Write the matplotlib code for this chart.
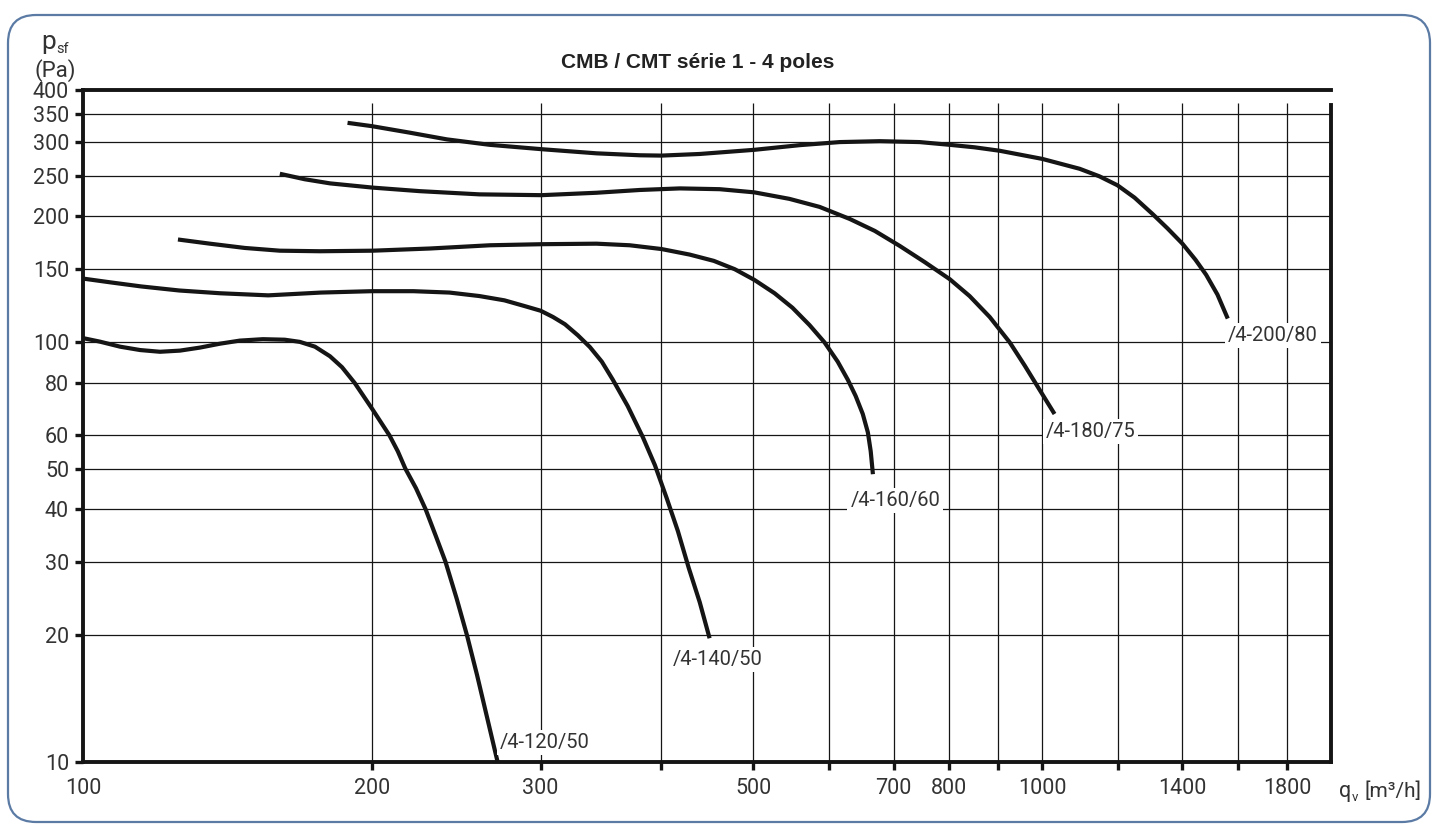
import matplotlib.pyplot as plt
from matplotlib.patches import FancyBboxPatch
from matplotlib.ticker import NullLocator

FONT = ['Roboto', 'DejaVu Sans']
INK = '#151515'
LABEL_INK = '#333333'

# Fan curves: flow q_v [m3/h] and pressure p_sf [Pa]
q_120_50 = [100, 104.2, 109.3, 114.7, 120.3, 126.2, 132.4, 138.9, 145.7, 154, 162.3, 168.3, 174.5,
            180.9, 186.2, 192, 200.3, 208.7, 212.9, 216.8, 222.4, 227.6, 233.4, 238.7, 245.2,
            251.4, 257.5, 263.9, 270.5]
p_120_50 = [102.4, 100.4, 97.7, 95.9, 95, 95.6, 97.2, 99.3, 101, 101.8, 101.5, 100.3, 97.7, 92.7,
            87.3, 80, 69.3, 60, 55, 50, 44.9, 40, 34.4, 30, 24.5, 20, 16.1, 12.7, 10]

q_140_50 = [100, 107, 115, 126, 139, 156, 177, 200, 221, 241, 259, 275, 289, 300, 309, 318, 328,
            337.6, 347.4, 356.7, 369.7, 383.3, 394.6, 406, 417, 428, 439.5, 450]
p_140_50 = [142, 139, 136, 133, 131, 129.5, 131.5, 132.5, 132.5, 131.5, 129, 126, 122, 119, 115,
            110.5, 104, 97.5, 90, 81.5, 70.5, 59.5, 51, 42.5, 35.5, 29, 24, 19.7]

q_160_60 = [125.6, 135.6, 147.5, 160.4, 176.6, 200.5, 230, 265.5, 300.6, 343, 371.5, 401, 429,
            454.6, 478, 501, 526, 549, 572, 593, 612, 627, 639, 650, 658, 662.5, 666]
p_160_60 = [176, 172, 168, 165.5, 165, 165.5, 167.5, 170.5, 171.5, 172, 170.5, 167, 162, 156.5,
            149.5, 141, 131, 121, 110, 100, 90, 81.5, 74.5, 67.5, 61, 55, 48.5]

q_180_75 = [160.4, 170.3, 181, 200.5, 224.5, 259, 300.6, 343, 380.6, 419, 461, 501, 545, 586, 630,
            669, 710, 754, 801, 840, 881.5, 925, 959, 994, 1030]
p_180_75 = [252.5, 245, 239.5, 234, 229.5, 225.5, 224.5, 227.5, 231, 233, 232, 228, 220, 210.5,
            197, 184.5, 170, 155.5, 141.5, 129, 115, 100, 88, 77, 67.5]

q_200_80 = [188.7, 200, 219, 239.5, 265.5, 300.6, 343, 380.6, 401, 439.5, 501, 559, 615, 677, 745,
            801, 850, 903, 1000, 1094, 1147, 1198, 1248, 1303, 1351, 1400, 1444.5, 1482, 1523, 1561]
p_200_80 = [334, 328, 316.5, 305, 296, 289, 282.5, 279.5, 279, 281.5, 288, 295.5, 300.5, 302,
            300.5, 296, 292, 286.5, 274, 259.5, 249, 237, 221.5, 202.5, 187, 172, 157.5, 145, 130,
            114]

curve_names = ['/4-120/50', '/4-140/50', '/4-160/60', '/4-180/75', '/4-200/80']
curve_q = [q_120_50, q_140_50, q_160_60, q_180_75, q_200_80]
curve_p = [p_120_50, p_140_50, p_160_60, p_180_75, p_200_80]
# where each curve label sits (left of slash, baseline)
label_q = [272, 412, 631, 1008, 1561]
label_p = [10.8, 17.0, 40.7, 59.5, 100.9]

x_ticks = [100, 200, 300, 400, 500, 600, 700, 800, 900, 1000, 1200, 1400, 1600, 1800]
x_tick_labels = ['100', '200', '300', '', '500', '', '700', '800', '', '1000', '', '1400', '', '1800']
y_ticks = [10, 20, 30, 40, 50, 60, 80, 100, 150, 200, 250, 300, 350, 400]

W, H = 1432, 825


def fx(px):
    return px / W


def fy(py):
    return 1 - py / H


fig = plt.figure(figsize=(W / 100, H / 100), dpi=100)
ax = fig.add_axes([fx(83), fy(761.7), fx(1331) - fx(83), fy(90) - fy(761.7)])
ax.set_xscale('log')
ax.set_yscale('log')
ax.set_xlim(100, 2000)
ax.set_ylim(10, 400)

# grid drawn by hand: vertical lines stop a little below the top frame
ax.hlines(y_ticks[1:-1], 100, 2000, color=INK, lw=0.9, zorder=1)
ax.vlines(x_ticks[1:], 10, 372, color=INK, lw=0.9, zorder=1)

for q, p in zip(curve_q, curve_p):
    ax.plot(q, p, color=INK, lw=3, solid_capstyle='butt', solid_joinstyle='round', zorder=3)

for name, lq, lp in zip(curve_names, label_q, label_p):
    ax.text(lq, lp, name, ha='left', va='baseline', fontsize=14.5, family=FONT, color=LABEL_INK,
            zorder=4, bbox=dict(boxstyle='square,pad=0.15', fc='white', ec='none'))

ax.set_xticks(x_ticks)
ax.set_xticklabels(x_tick_labels)
ax.set_yticks(y_ticks)
ax.set_yticklabels([str(v) for v in y_ticks])
ax.xaxis.set_minor_locator(NullLocator())
ax.yaxis.set_minor_locator(NullLocator())
ax.xaxis.get_major_ticks()[0].tick1line.set_visible(False)
ax.tick_params(axis='both', direction='out', length=6, width=2.4, color=INK,
               labelsize=15.5, labelcolor=LABEL_INK)
ax.tick_params(axis='x', pad=6)
ax.tick_params(axis='y', pad=4)
for lbl in ax.get_xticklabels() + ax.get_yticklabels():
    lbl.set_family(FONT)

for side in ['left', 'right', 'top', 'bottom']:
    ax.spines[side].set_linewidth(2.8)
    ax.spines[side].set_color(INK)
ax.spines['right'].set_bounds(10, 368)

# axis names and title
fig.text(fx(41), fy(49), 'p', fontsize=19, family=FONT, color=LABEL_INK, va='baseline')
fig.text(fx(56), fy(53), 'sf', fontsize=10.5, family=FONT, color=LABEL_INK, va='baseline')
fig.text(fx(34), fy(76.5), '(Pa)', fontsize=16, family=FONT, color=LABEL_INK, va='baseline')
fig.text(fx(1339), fy(796.7), 'q', fontsize=15.5, family=FONT, color=LABEL_INK, va='baseline')
fig.text(fx(1351.5), fy(801), 'v', fontsize=9.5, family=FONT, color=LABEL_INK, va='baseline')
fig.text(fx(1365), fy(796.7), '[m\u00b3/h]', fontsize=15, family=FONT, color=LABEL_INK,
         va='baseline')
fig.text(fx(698), fy(62), 'CMB / CMT série 1 - 4 poles', ha='center', va='center', fontsize=15,
         fontweight='bold', family='Liberation Sans', color='#222222')

# rounded frame around the whole panel
frame = FancyBboxPatch((0.08, 0.03), 14.22, 8.07, boxstyle='round,pad=0,rounding_size=0.28',
                       transform=fig.dpi_scale_trans, fill=False, ec='#5b7ba5', lw=1.6)
fig.add_artist(frame)

fig.savefig('out.png', dpi=100, facecolor='white')
